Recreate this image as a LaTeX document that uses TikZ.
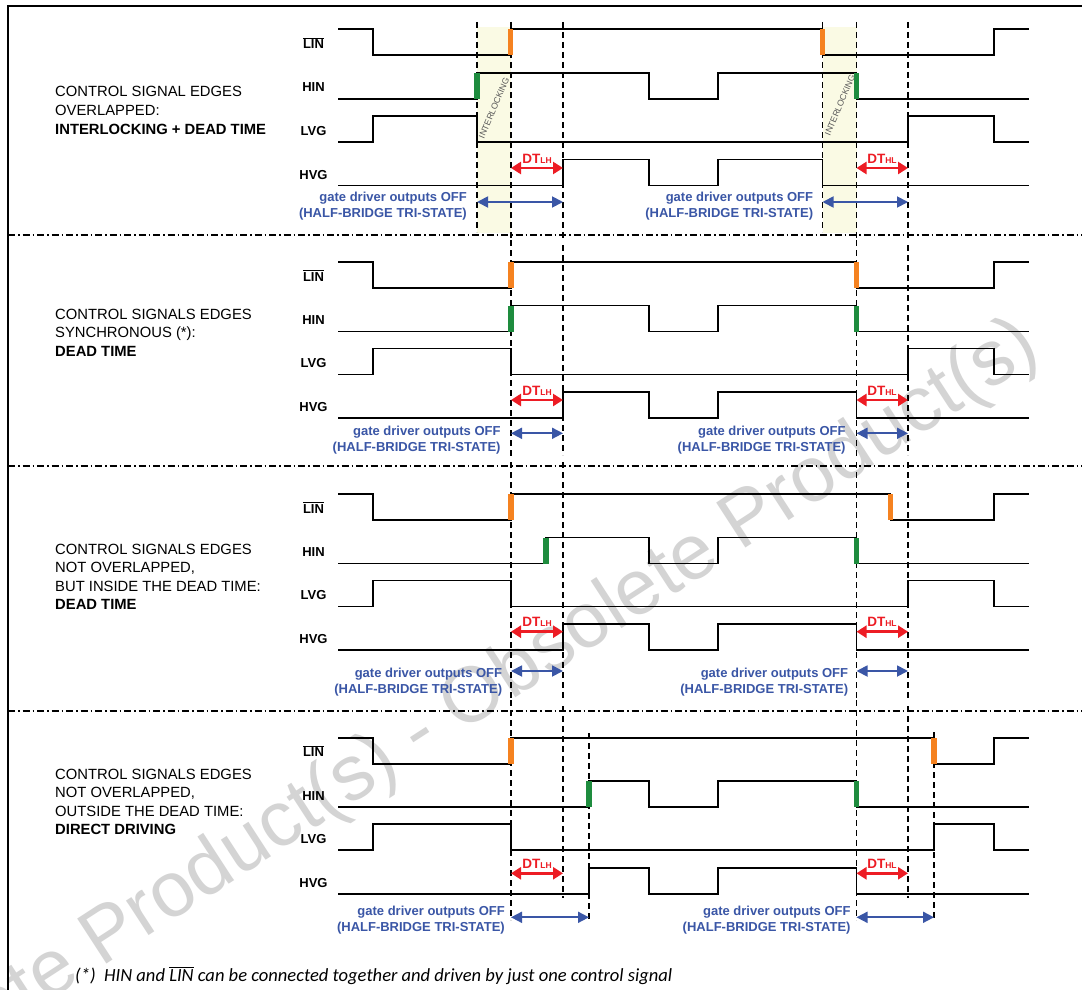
\documentclass[tikz,border=0pt]{standalone}
\usepackage{fontspec}
\setmainfont{Liberation Sans}
\newfontfamily\fnfont{Carlito}
\usetikzlibrary{arrows.meta}
\definecolor{edgeorange}{RGB}{245,130,32}
\definecolor{edgegreen}{RGB}{30,140,62}
\definecolor{bandyellow}{RGB}{250,250,228}
\definecolor{dtred}{RGB}{237,28,36}
\definecolor{offblue}{RGB}{58,86,166}
\definecolor{wmgray}{RGB}{212,212,212}
\tikzset{
  sig/.style={line width=1.6pt, black, line join=miter},
  vdash/.style={line width=1.4pt, black, dash pattern=on 6pt off 4pt},
  sepline/.style={line width=1.2pt, black, dash pattern=on 7pt off 3pt on 1.5pt off 3pt},
  framestyle/.style={line width=2pt, black},
  lbl/.style={anchor=base, inner sep=0pt, font=\fontsize{13}{15}\selectfont\bfseries},
  lefttxt/.style={anchor=base west, inner sep=0pt, font=\fontsize{14.8}{17}\selectfont},
  lefttxtb/.style={lefttxt, font=\fontsize{14.8}{17}\selectfont\bfseries},
  btxt/.style={anchor=base east, inner sep=0pt, text=offblue, font=\fontsize{13}{15}\selectfont\bfseries},
  dtl/.style={anchor=base, inner sep=0pt, text=dtred, font=\fontsize{13.5}{15}\selectfont\bfseries},
  dtarr/.style={line width=2.7pt, dtred, {Triangle[length=10pt,width=12pt]}-{Triangle[length=10pt,width=12pt]}},
  offarr/.style={line width=1.8pt, offblue, {Triangle[length=11pt,width=11pt]}-{Triangle[length=11pt,width=11pt]}},
  ilock/.style={inner sep=0pt, rotate=67, text=black!65, font=\fontsize{8.7}{9}\selectfont},
  obar/.style={fill=edgeorange},
  gbar/.style={fill=edgegreen},
}
\newcommand{\siglabels}[1]{%
  \node[lbl] (#1lin) at (313.5,19) {$\overline{\hbox{LIN}}$};
  \node[lbl] (#1hin) at (313.5,62.7) {HIN};
  \node[lbl] (#1lvg) at (313.5,105.7) {LVG};
  \node[lbl] (#1hvg) at (313.5,149.7) {HVG};}
\newcommand{\offtext}[3]{%
  \node[btxt] (#1a) at (#2,#3) {gate driver outputs OFF};
  \node[btxt] (#1b) at (#2,#3+16.5) {(HALF-BRIDGE TRI-STATE)};}
\newcommand{\dtlabel}[4]{%
  \node[dtl] (#1) at (#2,#3) {DT{\fontsize{8.5}{9}\selectfont #4}};}
\newcommand{\obarat}[1]{\fill[obar] (#1-2.6,0) rectangle (#1+2.6,26);}
\newcommand{\gbarat}[1]{\fill[gbar] (#1-2.6,43.5) rectangle (#1+2.6,69.5);}
\begin{document}
\begin{tikzpicture}[x=1pt,y=-1pt]
\useasboundingbox (0,0) rectangle (1082,990);
\clip (0,0) rectangle (1082,990);
\fill[white] (0,0) rectangle (1082,990);
% watermark
\node[anchor=base west, inner sep=0pt, rotate=33, text=wmgray,
      font=\fontsize{78}{80}\selectfont] (wm) at (-179,1149)
      {Obsolete Product(s) - Obsolete Product(s)};
% frame
\draw[framestyle] (8,992) -- (8,6) -- (1084,6);
% interlocking bands
\fill[bandyellow] (477,27) rectangle (511,233);
\fill[bandyellow] (822.5,27) rectangle (856.5,233);
\node[ilock] (il1) at (494,108) {INTERLOCKING};
\node[ilock] (il2) at (840,105) {INTERLOCKING};
% separators
\draw[sepline] (8,235) -- (1084,235);
\draw[sepline] (8,466) -- (1084,466);
\draw[sepline] (8,711) -- (1084,711);
% dashed time markers
\foreach \x/\a/\b in {477/22/232, 511/22/240, 563/22/240, 822.5/22/232, 856.5/22/240, 908/22/240,
                      511/240/458, 856.5/240/458, 563/245/455, 908/245/455,
                      511/462/700, 563/462/700, 856.5/462/700, 908/462/700,
                      511/700/920, 856.5/700/920, 563/706/898, 908/706/898, 589/733/920, 934/732/920}
  \draw[vdash] (\x,\a) -- (\x,\b);
% ---------------- section 1
\begin{scope}[shift={(0,29.3)}]
  \siglabels{a}
  \draw[sig] (338,0) -- (372.7,0) |- (510.7,26) |- (822.5,0) |- (994,26) |- (1029,0);
  \draw[sig] (338,69.5) -- (477,69.5) |- (649,43.5) |- (718,69.5) |- (856.5,43.5) |- (1029,69.5);
  \draw[sig] (338,112.5) -- (372.7,112.5) |- (477,86.5) |- (908,112.5) |- (994,86.5) |- (1029,112.5);
  \draw[sig] (338,156) -- (563,156) |- (649,130) |- (718,156) |- (822.5,130) |- (1029,156);
  \obarat{510.7} \obarat{822.5}
  \gbarat{477} \gbarat{856.5}
\end{scope}
\node[lefttxt] (t1a) at (55,96.7) {CONTROL SIGNAL EDGES};
\node[lefttxt] (t1b) at (55,115.3) {OVERLAPPED:};
\node[lefttxtb] (t1c) at (55,134) {INTERLOCKING + DEAD TIME};
\coordinate (d1a) at (511,168); \coordinate (d1b) at (563,168);
\coordinate (d1c) at (856.5,168); \coordinate (d1d) at (908,168);
\draw[dtarr] (d1a) -- (d1b); \draw[dtarr] (d1c) -- (d1d);
\dtlabel{dt1a}{537}{163}{LH} \dtlabel{dt1b}{882}{163}{HL}
\coordinate (o1a) at (477,202); \coordinate (o1b) at (563,202);
\coordinate (o1c) at (822.5,202); \coordinate (o1d) at (908,202);
\draw[offarr] (o1a) -- (o1b); \draw[offarr] (o1c) -- (o1d);
\offtext{g1l}{467}{201} \offtext{g1r}{813.3}{201}
% ---------------- section 2
\begin{scope}[shift={(0,262)}]
  \siglabels{b}
  \draw[sig] (338,0) -- (372.7,0) |- (511,26) |- (856.5,0) |- (994,26) |- (1029,0);
  \draw[sig] (338,69.5) -- (511,69.5) |- (649,43.5) |- (718,69.5) |- (856.5,43.5) |- (1029,69.5);
  \draw[sig] (338,112.5) -- (372.7,112.5) |- (511,86.5) |- (908,112.5) |- (994,86.5) |- (1029,112.5);
  \draw[sig] (338,156) -- (563,156) |- (649,130) |- (718,156) |- (856.5,130) |- (1029,156);
  \obarat{511} \obarat{856.5}
  \gbarat{511} \gbarat{856.5}
\end{scope}
\node[lefttxt] (t2a) at (55,319) {CONTROL SIGNALS EDGES};
\node[lefttxt] (t2b) at (55,337.6) {SYNCHRONOUS (*):};
\node[lefttxtb] (t2c) at (55,356.2) {DEAD TIME};
\coordinate (d2a) at (511,400); \coordinate (d2b) at (563,400);
\coordinate (d2c) at (856.5,400); \coordinate (d2d) at (908,400);
\draw[dtarr] (d2a) -- (d2b); \draw[dtarr] (d2c) -- (d2d);
\dtlabel{dt2a}{537}{395}{LH} \dtlabel{dt2b}{882}{395}{HL}
\coordinate (o2a) at (511,433.3); \coordinate (o2b) at (563,433.3);
\coordinate (o2c) at (856.5,433.3); \coordinate (o2d) at (908,433.3);
\draw[offarr] (o2a) -- (o2b); \draw[offarr] (o2c) -- (o2d);
\offtext{g2l}{500.7}{435} \offtext{g2r}{845.7}{435}
% ---------------- section 3
\begin{scope}[shift={(0,494)}]
  \siglabels{c}
  \draw[sig] (338,0) -- (372.7,0) |- (511,26) |- (890.5,0) |- (994,26) |- (1029,0);
  \draw[sig] (338,69.5) -- (546,69.5) |- (649,43.5) |- (718,69.5) |- (856.5,43.5) |- (1029,69.5);
  \draw[sig] (338,112.5) -- (372.7,112.5) |- (511,86.5) |- (908,112.5) |- (994,86.5) |- (1029,112.5);
  \draw[sig] (338,156) -- (563,156) |- (649,130) |- (718,156) |- (856.5,130) |- (1029,156);
  \obarat{511} \obarat{890.5}
  \gbarat{546} \gbarat{856.5}
\end{scope}
\node[lefttxt] (t3a) at (55,554) {CONTROL SIGNALS EDGES};
\node[lefttxt] (t3b) at (55,572.6) {NOT OVERLAPPED,};
\node[lefttxt] (t3c) at (55,591.2) {BUT INSIDE THE DEAD TIME:};
\node[lefttxtb] (t3d) at (55,609.8) {DEAD TIME};
\coordinate (d3a) at (511,631.7); \coordinate (d3b) at (563,631.7);
\coordinate (d3c) at (856.5,631.7); \coordinate (d3d) at (908,631.7);
\draw[dtarr] (d3a) -- (d3b); \draw[dtarr] (d3c) -- (d3d);
\dtlabel{dt3a}{537}{626.7}{LH} \dtlabel{dt3b}{882}{626.7}{HL}
\coordinate (o3a) at (511,671); \coordinate (o3b) at (563,671);
\coordinate (o3c) at (856.5,671); \coordinate (o3d) at (908,671);
\draw[offarr] (o3a) -- (o3b); \draw[offarr] (o3c) -- (o3d);
\offtext{g3l}{502.3}{677.3} \offtext{g3r}{848.3}{677.3}
% ---------------- section 4
\begin{scope}[shift={(0,737.7)}]
  \siglabels{d}
  \draw[sig] (338,0) -- (372.7,0) |- (511,26) |- (934,0) |- (994,26) |- (1029,0);
  \draw[sig] (338,69.5) -- (589,69.5) |- (649,43.5) |- (718,69.5) |- (856.5,43.5) |- (1029,69.5);
  \draw[sig] (338,112.5) -- (372.7,112.5) |- (511,86.5) |- (934,112.5) |- (994,86.5) |- (1029,112.5);
  \draw[sig] (338,156) -- (589,156) |- (649,130) |- (718,156) |- (856.5,130) |- (1029,156);
  \obarat{511} \obarat{934}
  \gbarat{589} \gbarat{856.5}
\end{scope}
\node[lefttxt] (t4a) at (55,779) {CONTROL SIGNALS EDGES};
\node[lefttxt] (t4b) at (55,797.6) {NOT OVERLAPPED,};
\node[lefttxt] (t4c) at (55,816.2) {OUTSIDE THE DEAD TIME:};
\node[lefttxtb] (t4d) at (55,834.8) {DIRECT DRIVING};
\coordinate (d4a) at (511,873.3); \coordinate (d4b) at (563,873.3);
\coordinate (d4c) at (856.5,873.3); \coordinate (d4d) at (908,873.3);
\draw[dtarr] (d4a) -- (d4b); \draw[dtarr] (d4c) -- (d4d);
\dtlabel{dt4a}{537}{868.3}{LH} \dtlabel{dt4b}{882}{868.3}{HL}
\coordinate (o4a) at (511,917.3); \coordinate (o4b) at (589,917.3);
\coordinate (o4c) at (856.5,917.3); \coordinate (o4d) at (934,917.3);
\draw[offarr] (o4a) -- (o4b); \draw[offarr] (o4c) -- (o4d);
\offtext{g4l}{505}{915} \offtext{g4r}{850.7}{915}
% footnote
\node[anchor=base west, inner sep=0pt] (fn) at (75,981)
  {\resizebox{597pt}{!}{\fnfont\itshape\fontsize{16}{18}\selectfont (*)\ \ HIN and $\overline{\hbox{\fnfont\itshape LIN}}$ can be connected together and driven by just one control signal}};
\end{tikzpicture}
\end{document}
